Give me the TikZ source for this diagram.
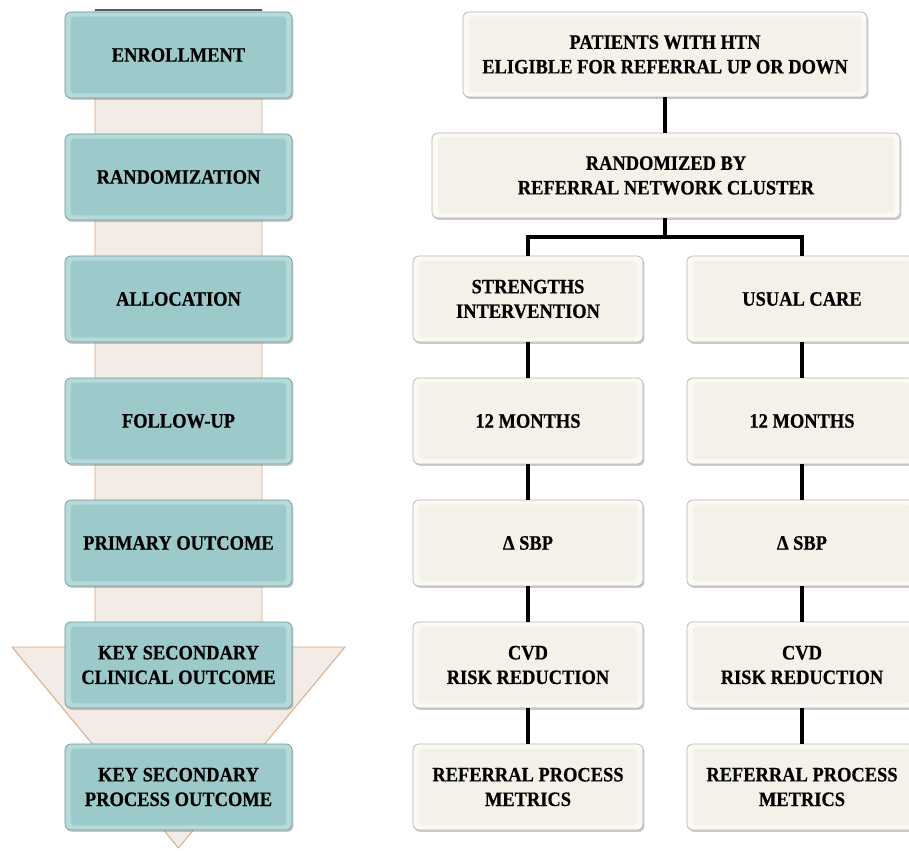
\documentclass[tikz,border=0pt]{standalone}
\usepackage{fontspec}
\setmainfont{Liberation Serif}
\newfontfamily\boxfont[BoldFeatures={FakeStretch=0.9,FakeBold=0.6}]{Liberation Serif}
\usetikzlibrary{shadows}

\definecolor{tealface}{HTML}{9CCACB}
\definecolor{tealrim}{HTML}{B4DADA}
\definecolor{tealedge}{HTML}{6F9899}
\definecolor{creamface}{HTML}{F4F2E8}
\definecolor{creamrim}{HTML}{FAF9F3}
\definecolor{creamedge}{HTML}{B9B6AC}
\definecolor{shaftfill}{HTML}{F3EBE6}
\definecolor{shaftedge}{HTML}{D9AA80}

\tikzset{
  bevelbox/.style n args={3}{
    rectangle, rounded corners=5pt, draw=#3, line width=0.6pt, fill=#2,
    align=center, font=\boxfont\bfseries\fontsize{17.5}{21}\selectfont,
    drop shadow={shadow xshift=1.2pt, shadow yshift=-1.6pt, opacity=0.35, fill=black!60},
    path picture={
      \fill[#1, rounded corners=3pt]
        ([shift={(5pt,4pt)}]path picture bounding box.south west)
        rectangle ([shift={(-5pt,-4pt)}]path picture bounding box.north east);
    }
  },
  stage/.style={bevelbox={tealface}{tealrim}{tealedge},
    minimum width=6.81cm, minimum height=2.58cm},
  cell/.style={bevelbox={creamface}{creamrim}{creamedge},
    minimum width=6.9cm, minimum height=2.58cm},
  wide/.style={bevelbox={creamface}{creamrim}{creamedge},
    minimum height=2.55cm},
  link/.style={line width=2.6pt, black}
}

\begin{document}
\begin{tikzpicture}[x=0.03cm, y=-0.03cm]
\useasboundingbox (0,0) rectangle (909,850);
\clip (0,0) rectangle (909,850);

% background arrow behind the stages
\fill[shaftfill] (95,10) -- (262,10) -- (262,647) -- (345,647) -- (178.5,848)
  -- (12,647) -- (95,647) -- cycle;
\draw[shaftedge, line width=0.8pt] (95,10) -- (95,647) -- (12,647) -- (178.5,848)
  -- (345,647) -- (262,647) -- (262,10);
\draw[black!65, line width=1pt] (95,10) -- (262,10);

% stages of the study
\node[stage] (enr) at (178.5,55) {ENROLLMENT};
\node[stage] (rnd) at (178.5,177) {RANDOMIZATION};
\node[stage] (alc) at (178.5,299) {ALLOCATION};
\node[stage] (fup) at (178.5,421) {FOLLOW-UP};
\node[stage] (pri) at (178.5,543) {PRIMARY OUTCOME};
\node[stage] (ksc) at (178.5,665) {KEY SECONDARY\\CLINICAL OUTCOME};
\node[stage] (ksp) at (178.5,787) {KEY SECONDARY\\PROCESS OUTCOME};

% trial flow
\node[wide, minimum width=12.12cm] (pat) at (665,54.5)
  {PATIENTS WITH HTN\\ELIGIBLE FOR REFERRAL UP OR DOWN};
\node[wide, minimum width=14.04cm] (rby) at (666,175.5)
  {RANDOMIZED BY\\REFERRAL NETWORK CLUSTER};

\node[cell] (si) at (528,299) {STRENGTHS\\INTERVENTION};
\node[cell] (uc) at (802,299) {USUAL CARE};
\node[cell] (si12) at (528,421) {12 MONTHS};
\node[cell] (uc12) at (802,421) {12 MONTHS};
\node[cell] (sisbp) at (528,543) {Δ SBP};
\node[cell] (ucsbp) at (802,543) {Δ SBP};
\node[cell] (sicvd) at (528,665) {CVD\\RISK REDUCTION};
\node[cell] (uccvd) at (802,665) {CVD\\RISK REDUCTION};
\node[cell] (siref) at (528,787) {REFERRAL PROCESS\\METRICS};
\node[cell] (ucref) at (802,787) {REFERRAL PROCESS\\METRICS};

\coordinate (split) at (665,237);
\draw[link] (pat.south -| split) -- (rby.north -| split);
\draw[link] (rby.south -| split) -- (split) -| (si.north);
\draw[link] (split) -| (uc.north);
\draw[link] (si) -- (si12);
\draw[link] (si12) -- (sisbp);
\draw[link] (sisbp) -- (sicvd);
\draw[link] (sicvd) -- (siref);
\draw[link] (uc) -- (uc12);
\draw[link] (uc12) -- (ucsbp);
\draw[link] (ucsbp) -- (uccvd);
\draw[link] (uccvd) -- (ucref);
\end{tikzpicture}
\end{document}
